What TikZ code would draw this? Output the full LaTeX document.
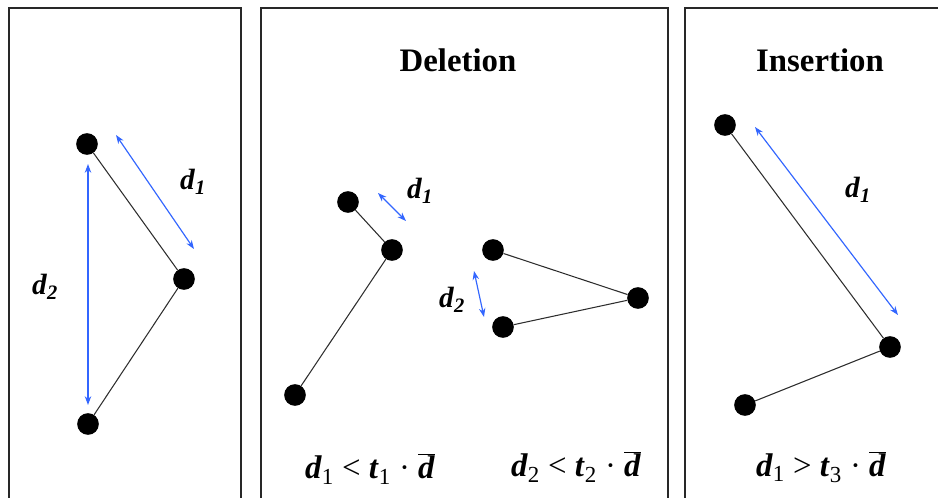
\documentclass[tikz,border=0pt]{standalone}
\usepackage{fontspec}
\setmainfont{Liberation Serif}
\usetikzlibrary{arrows.meta}
\definecolor{arrowblue}{RGB}{51,102,255}
\definecolor{edgegray}{RGB}{45,45,45}
\definecolor{framegray}{RGB}{40,40,40}
\newcommand{\vd}{\textbf{\textit{d}}}
\newcommand{\vt}{\textbf{\textit{t}}}
\newcommand{\vdbar}{$\overline{\hbox{\vd}}$}
\newcommand{\dlab}[1]{\vd\textsubscript{\textbf{\textit{#1}}}}

\begin{document}
\begin{tikzpicture}[x=0.03cm, y=-0.03cm,
    dot/.style={circle, fill=black, inner sep=0pt, minimum size=18.5pt},
    edge/.style={edgegray, line width=0.9pt},
    span/.style={arrowblue, line width=1pt, {Stealth[length=7.5pt,width=5.5pt]}-{Stealth[length=7.5pt,width=5.5pt]}},
    frame/.style={framegray, line width=1.6pt},
    title/.style={font=\fontsize{28}{32}\selectfont\bfseries},
    dname/.style={font=\fontsize{25}{29}\selectfont},
    rule/.style={font=\fontsize{28}{32}\selectfont}]
  \useasboundingbox (0,0) rectangle (938,498);

  % Panels
  \draw[frame] (9,498) -- (9,8) -- (241,8) -- (241,498);
  \draw[frame] (261,498) -- (261,8) -- (668,8) -- (668,498);
  \draw[frame] (685,498) -- (685,8) -- (938,8);

  % Left panel
  \node[dot] (a1) at (87,144) {};
  \node[dot] (a2) at (184,279) {};
  \node[dot] (a3) at (88,424) {};
  \draw[edge] (a1) -- (a2) -- (a3);
  \coordinate (s1a) at (116,135);
  \coordinate (s1b) at (194,249);
  \coordinate (s2a) at (88,164);
  \coordinate (s2b) at (88,405);
  \draw[span] (s1a) -- (s1b);
  \draw[span] (s2a) -- (s2b);
  \node[dname] at (193,182) {\dlab{1}};
  \node[dname] at (45,287) {\dlab{2}};

  % Deletion panel
  \node[title] (del) at (458,60) {Deletion};
  \node[dot] (p1) at (348,202) {};
  \node[dot] (p2) at (392,250) {};
  \node[dot] (p3) at (295,395) {};
  \draw[edge] (p1) -- (p2) -- (p3);
  \node[dot] (q1) at (493,250) {};
  \node[dot] (q2) at (638,298) {};
  \node[dot] (q3) at (503,327) {};
  \draw[edge] (q1) -- (q2) -- (q3);
  \coordinate (s3a) at (378,193);
  \coordinate (s3b) at (406,221);
  \coordinate (s4a) at (474,271);
  \coordinate (s4b) at (484,317);
  \draw[span] (s3a) -- (s3b);
  \draw[span] (s4a) -- (s4b);
  \node[dname] at (420,191) {\dlab{1}};
  \node[dname] at (452,300) {\dlab{2}};
  \node[rule] at (370,469) {\vd\textsubscript{1} < \vt\textsubscript{1} · \vdbar};
  \node[rule] at (576,467) {\vd\textsubscript{2} < \vt\textsubscript{2} · \vdbar};

  % Insertion panel
  \node[title] (ins) at (820,60) {Insertion};
  \node[dot] (r1) at (725,125) {};
  \node[dot] (r2) at (890,347) {};
  \node[dot] (r3) at (745,405) {};
  \draw[edge] (r1) -- (r2) -- (r3);
  \coordinate (s5a) at (755,127);
  \coordinate (s5b) at (898,315);
  \draw[span] (s5a) -- (s5b);
  \node[dname] at (858,190) {\dlab{1}};
  \node[rule] at (821,467) {\vd\textsubscript{1} > \vt\textsubscript{3} · \vdbar};
\end{tikzpicture}
\end{document}
